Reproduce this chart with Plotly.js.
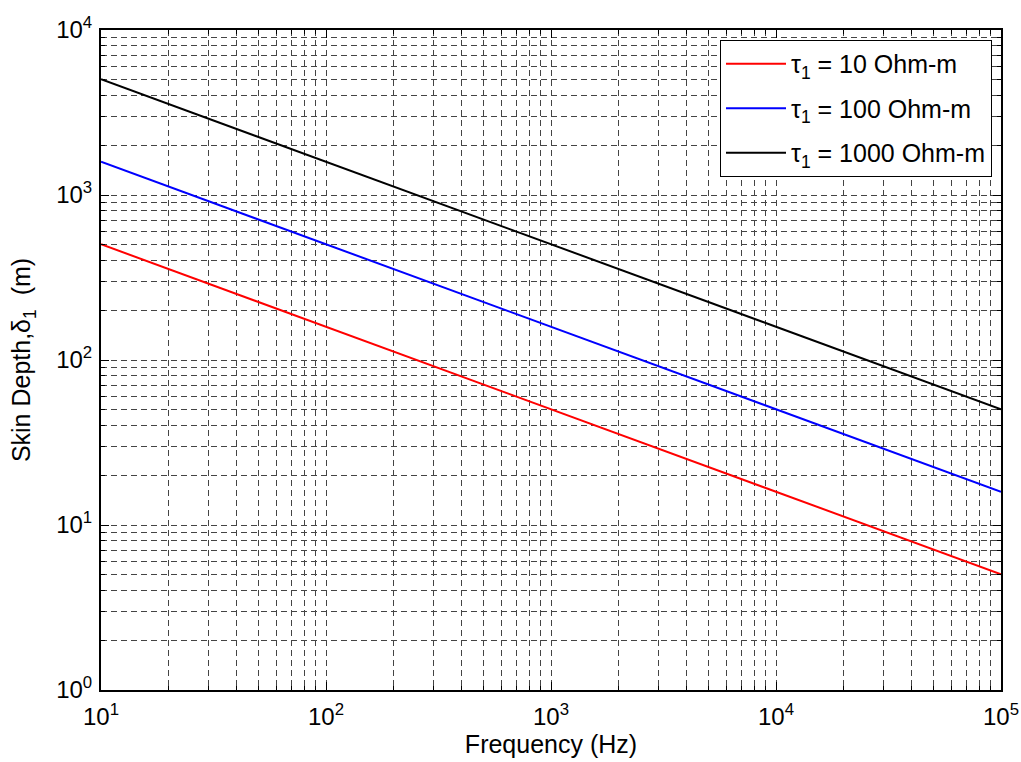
<!DOCTYPE html>
<html><head><meta charset="utf-8">
<script src="https://cdn.plot.ly/plotly-3.0.1.min.js"></script>
<style>body{margin:0;background:#fff}#chart{width:1021px;height:762px}</style>
</head><body><div id="chart"></div>
<script>
const frequency = [10, 100, 1000, 10000, 100000];
const depth_rho10 = [503, 159, 50.3, 15.9, 5.03];
const depth_rho100 = [1590, 503, 159, 50.3, 15.9];
const depth_rho1000 = [5030, 1590, 503, 159, 50.3];
const seriesNames = ['τ<sub>1</sub> = 10 Ohm-m', 'τ<sub>1</sub> = 100 Ohm-m', 'τ<sub>1</sub> = 1000 Ohm-m'];
const xTickVals = [10, 100, 1000, 10000, 100000];
const xTickText = ['10<sup>1</sup>', '10<sup>2</sup>', '10<sup>3</sup>', '10<sup>4</sup>', '10<sup>5</sup>'];
const yTickVals = [1, 10, 100, 1000, 10000];
const yTickText = ['10<sup>0</sup>', '10<sup>1</sup>', '10<sup>2</sup>', '10<sup>3</sup>', '10<sup>4</sup>'];

const colors = ['#ff0000', '#0000ff', '#000000'];
const ys = [depth_rho10, depth_rho100, depth_rho1000];
const traces = ys.map((y, i) => ({
  x: frequency, y: y, type: 'scatter', mode: 'lines', name: seriesNames[i],
  legendgroup: 'g' + i,
  line: {color: colors[i], width: 2}
}));

const fam = 'Liberation Sans, Arial, sans-serif';
const font = {family: fam, size: 25, color: '#000'};
const gridCommon = {
  type: 'log', showline: true, linecolor: '#000', linewidth: 2, mirror: 'allticks',
  ticks: 'inside', ticklen: 8, tickcolor: '#000', tickwidth: 1,
  showgrid: true, gridcolor: '#444', griddash: '6px,4px', gridwidth: 1,
  zeroline: false, tickfont: {family: fam, size: 24, color: '#000'},
  minor: {showgrid: true, gridcolor: '#444', griddash: '6px,4px', gridwidth: 1,
          ticks: 'inside', ticklen: 4, tickcolor: '#000', dtick: 'D1'}
};
const layout = {
  width: 1021, height: 762,
  margin: {l: 101, r: 20, t: 30, b: 72},
  paper_bgcolor: '#fff', plot_bgcolor: '#fff',
  font: font,
  showlegend: true,
  legend: {x: 0.99, xanchor: 'right', y: 0.985, yanchor: 'top', bgcolor: '#fff',
           bordercolor: '#000', borderwidth: 1, font: {family: fam, size: 25, color: '#000'},
           tracegroupgap: 9, itemwidth: 60},
  xaxis: Object.assign({}, gridCommon, {
    range: [1, 5], tickvals: xTickVals, ticktext: xTickText, ticklabelstandoff: 4,
    title: {text: 'Frequency (Hz)', font: {family: fam, size: 25}, standoff: 0}
  }),
  yaxis: Object.assign({}, gridCommon, {
    range: [0, 4], tickvals: yTickVals, ticktext: yTickText, ticklabelstandoff: 2,
    title: {text: 'Skin Depth,δ<sub>1</sub>  (m)', font: {family: fam, size: 25}, standoff: 18}
  })
};
Plotly.newPlot('chart', traces, layout, {staticPlot: true});
</script></body></html>
